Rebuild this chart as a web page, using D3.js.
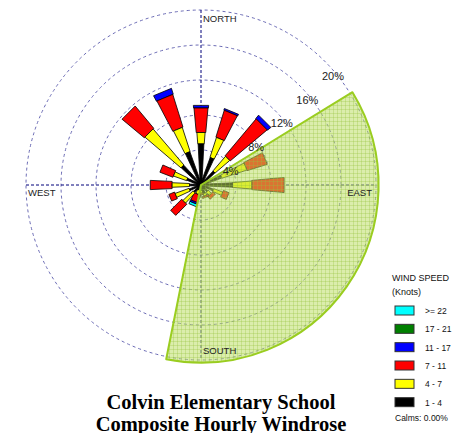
<!DOCTYPE html>
<html>
<head>
<meta charset="utf-8">
<script src="https://cdn.jsdelivr.net/npm/d3@7"></script>
<style>
  body { margin: 0; background: #fff; }
  svg { display: block; }
</style>
</head>
<body>
<svg id="chart" width="466" height="433"></svg>
<script>
// Sixteen compass sectors, clockwise from north
const directions = ["N","NNE","NE","ENE","E","ESE","SE","SSE","S","SSW","SW","WSW","W","WNW","NW","NNW"];

// Frequency (% of hours) per wind speed class, one value per direction
const freq_1_4   = [4.7, 3.3, 2.1, 2.5, 3.6, 1.5, 1.0, 1.0, 0.6, 0.6, 1.1, 1.4, 1.3, 1.7, 3.0, 4.0];
const freq_4_7   = [1.3, 2.4, 2.2, 3.0, 2.2, 1.1, 0.5, 0.3, 0.3, 0.5, 1.6, 1.7, 2.0, 1.6, 5.4, 2.9];
const freq_7_11  = [2.8, 3.2, 5.5, 2.4, 3.7, 0.7, 0.4, 0.2, 0.2, 0.9, 1.8, 0.7, 2.5, 1.6, 3.3, 3.9];
const freq_11_17 = [0.3, 0.2, 0.5, 0.0, 0.0, 0.0, 0.0, 0.0, 0.0, 0.2, 0.0, 0.0, 0.0, 0.0, 0.0, 0.7];
const freq_17_21 = [0.0, 0.0, 0.0, 0.0, 0.0, 0.0, 0.0, 0.0, 0.0, 0.0, 0.0, 0.0, 0.0, 0.0, 0.0, 0.0];
const freq_22    = [0.0, 0.0, 0.0, 0.0, 0.0, 0.0, 0.0, 0.0, 0.0, 0.3, 0.0, 0.0, 0.0, 0.0, 0.0, 0.0];

const speedClasses = ["1 - 4", "4 - 7", "7 - 11", "11 - 17", "17 - 21", ">= 22"];
const classSeries  = [freq_1_4, freq_4_7, freq_7_11, freq_11_17, freq_17_21, freq_22];
const speedColors  = ["#000000", "#ffff00", "#ff0000", "#0000ff", "#008000", "#00ffff"];

// Ring values (%) and their labels
const ringValues = [4, 8, 12, 16, 20];
const ringLabels = ["4%", "8%", "12%", "16%", "20%"];
const cardinalLabels = ["NORTH", "EAST", "SOUTH", "WEST"];

// Shaded sector: bearings (degrees) and reach (%)
const sectorFrom = 58.5, sectorTo = 191.3, sectorReach = 20.3;

const calmsText = "Calms: 0.00%";
const titleLines = ["Colvin Elementary School", "Composite Hourly Windrose"];

// ---- layout ----
const svg = d3.select("#chart");
const cx = 201, cy = 185;
const r = d3.scaleLinear().domain([0, 20]).range([0, 175]);
const bearing = d3.scalePoint().domain(directions).range([0, 360 - 22.5]);
const rad = d => d * Math.PI / 180;

// shading pattern for the sector
const defs = svg.append("defs");
const pat = defs.append("pattern").attr("id", "grid").attr("patternUnits", "userSpaceOnUse")
  .attr("width", 4).attr("height", 4);
pat.append("rect").attr("width", 4).attr("height", 4).attr("fill", "rgba(186,220,96,0.52)");
pat.append("path").attr("d", "M0 0.5H4M0.5 0V4").attr("stroke", "rgba(150,196,60,0.3)").attr("stroke-width", 1);

const g = svg.append("g");

// rings
g.selectAll("circle.ring").data(ringValues).join("circle")
  .attr("class", "ring")
  .attr("cx", cx).attr("cy", cy).attr("r", d => r(d))
  .attr("fill", "none").attr("stroke", "#6b6bb5").attr("stroke-width", 1)
  .attr("stroke-dasharray", "3,3");

// cross axes
const outer = r(20);
g.append("line").attr("x1", cx).attr("x2", cx).attr("y1", cy - outer).attr("y2", cy + outer)
  .attr("stroke", "#00007a").attr("stroke-dasharray", "3,2").attr("stroke-width", 1);
g.append("line").attr("x1", cx - outer).attr("x2", cx + outer).attr("y1", cy).attr("y2", cy)
  .attr("stroke", "#00007a").attr("stroke-dasharray", "3,2").attr("stroke-width", 1);

// petals: one stacked bar per direction, segments per speed class
const halfAngle = [4, 4.5, 5.2, 5.5, 5.5, 5.5];
const minHalf   = [0.8, 1.5, 3.6, 4, 4, 4];
const segments = [];
directions.forEach((dir, i) => {
  let acc = 0;
  classSeries.forEach((series, k) => {
    const v = series[i];
    if (v > 0) segments.push({ dir, k, from: acc, to: acc + v });
    acc += v;
  });
});

function petalPath(s) {
  const t = rad(bearing(s.dir));
  const ux = Math.sin(t), uy = -Math.cos(t);
  const px = Math.cos(t), py = Math.sin(t);
  const hw = rr => Math.max(rr * Math.tan(rad(halfAngle[s.k])), minHalf[s.k]);
  const r0 = r(s.from), r1 = r(s.to);
  const pts = [
    [cx + ux * r0 - px * hw(r0), cy + uy * r0 - py * hw(r0)],
    [cx + ux * r1 - px * hw(r1), cy + uy * r1 - py * hw(r1)],
    [cx + ux * r1 + px * hw(r1), cy + uy * r1 + py * hw(r1)],
    [cx + ux * r0 + px * hw(r0), cy + uy * r0 + py * hw(r0)]
  ];
  return d3.line()(pts) + "Z";
}

// draw outer classes first so inner ones stay on top at the hub
g.selectAll("path.petal").data(segments.slice().sort((a, b) => b.k - a.k)).join("path")
  .attr("class", "petal")
  .attr("d", petalPath)
  .attr("fill", d => speedColors[d.k])
  .attr("stroke", "#000").attr("stroke-width", 0.8).attr("stroke-linejoin", "miter");

// shaded sector
const sectorArc = d3.arc().innerRadius(0).outerRadius(r(sectorReach))
  .startAngle(rad(sectorFrom)).endAngle(rad(sectorTo));
g.append("path").attr("transform", `translate(${cx},${cy})`)
  .attr("d", sectorArc())
  .attr("fill", "url(#grid)")
  .attr("stroke", "#9acd20").attr("stroke-width", 2).attr("stroke-linejoin", "round");

// ring labels
const labelBearing = rad(47);
g.selectAll("text.ringlab").data(ringValues).join("text")
  .attr("class", "ringlab")
  .attr("x", d => cx + r(d) * Math.sin(labelBearing) + 4)
  .attr("y", d => cy - r(d) * Math.cos(labelBearing) + 14)
  .attr("text-anchor", "middle")
  .attr("font-family", "Liberation Sans, Arial, sans-serif").attr("font-size", 11)
  .attr("fill", "#222")
  .text((d, i) => ringLabels[i]);

// cardinal labels
const cardFont = { "font-family": "Liberation Sans, Arial, sans-serif", "font-size": 9.5, fill: "#222" };
const cardPos = [
  { x: cx + 2, y: cy - outer + 12, anchor: "start" },
  { x: cx + outer - 4, y: cy + 11, anchor: "end" },
  { x: cx + 2, y: cy + outer - 6, anchor: "start" },
  { x: cx - outer + 2, y: cy + 11, anchor: "start" }
];
cardinalLabels.forEach((lab, i) => {
  const t = g.append("text").attr("x", cardPos[i].x).attr("y", cardPos[i].y)
    .attr("text-anchor", cardPos[i].anchor).text(lab);
  Object.entries(cardFont).forEach(([k, v]) => t.attr(k, v));
});

// legend
const lg = svg.append("g").attr("font-family", "Liberation Sans, Arial, sans-serif").attr("fill", "#111");
lg.append("text").attr("x", 392).attr("y", 281).attr("font-size", 9).text("WIND SPEED");
lg.append("text").attr("x", 392).attr("y", 295).attr("font-size", 9).text("(Knots)");
const legendOrder = d3.range(speedClasses.length).reverse();
const ly = d3.scaleBand().domain(legendOrder).range([306, 416]);
legendOrder.forEach(k => {
  lg.append("rect").attr("x", 395).attr("y", ly(k)).attr("width", 19).attr("height", 9)
    .attr("fill", speedColors[k]).attr("stroke", "#333").attr("stroke-width", 1);
  lg.append("text").attr("x", 425).attr("y", ly(k) + 8).attr("font-size", 8.5).text(speedClasses[k]);
});
lg.append("text").attr("x", 395).attr("y", 421).attr("font-size", 8.5).text(calmsText);

// title (second line runs into the bottom edge of the canvas)
svg.selectAll("text.title").data(titleLines).join("text")
  .attr("class", "title")
  .attr("x", 221).attr("y", (d, i) => 409 + i * 22)
  .attr("text-anchor", "middle")
  .attr("font-family", "Liberation Serif, Times New Roman, serif")
  .attr("font-weight", "bold").attr("font-size", 20.5).attr("fill", "#000")
  .text(d => d);
</script>
</body>
</html>
